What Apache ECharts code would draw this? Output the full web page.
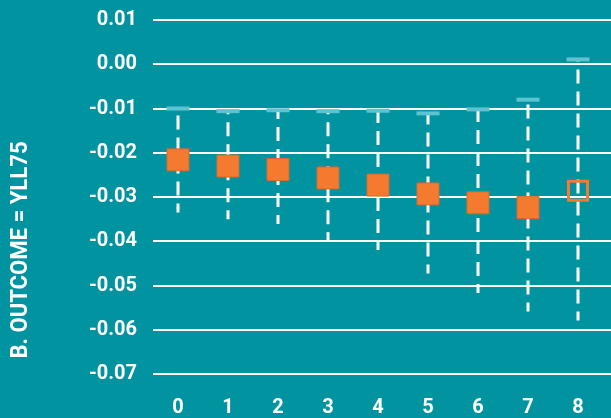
<!DOCTYPE html>
<html>
<head>
<meta charset="utf-8">
<script src="https://cdn.jsdelivr.net/npm/echarts@6/dist/echarts.min.js"></script>
<style>
  html, body { margin: 0; padding: 0; background: #0193A0; }
  #chart { width: 611px; height: 418px; }
</style>
</head>
<body>
<div id="chart"></div>
<script>
// Lag (years) on the horizontal axis
const lags = [0, 1, 2, 3, 4, 5, 6, 7, 8];
// Point estimates and interval bounds
const estimate = [-0.0216, -0.0230, -0.0238, -0.0257, -0.0273, -0.0293, -0.0313, -0.0324, -0.0286];
const upper    = [-0.0100, -0.0106, -0.0104, -0.0106, -0.0105, -0.0111, -0.0102, -0.0080, 0.0011];
const lower    = [-0.0335, -0.0350, -0.0361, -0.0400, -0.0420, -0.0473, -0.0517, -0.0559, -0.0579];
// Whether the interval excludes zero (filled marker) or not (hollow marker)
const significant = [true, true, true, true, true, true, true, true, false];
// Vertical axis ticks
const yTicks = [-0.07, -0.06, -0.05, -0.04, -0.03, -0.02, -0.01, 0.00, 0.01];
const yTitle = 'B. OUTCOME = YLL75';

const BG = '#0193A0';
const ORANGE = '#F47A30';
const CAP = '#5CC4D0';
const FONT = 'Roboto';

const filledPts = [], hollowPts = [], intervals = [];
lags.forEach((lag, i) => {
  (significant[i] ? filledPts : hollowPts).push([lag, estimate[i]]);
  intervals.push([lag, upper[i], lower[i]]);
});

const chart = echarts.init(document.getElementById('chart'), null, { renderer: 'canvas' });
chart.setOption({
  backgroundColor: BG,
  animation: false,
  grid: { left: 153, right: 0, top: 20, bottom: 38, containLabel: false },
  xAxis: {
    type: 'value',
    min: -0.5,
    max: 8.66,
    interval: 0.5,
    axisLine: { show: false },
    axisTick: { show: false },
    splitLine: { show: false },
    axisLabel: {
      margin: 24,
      color: '#ffffff',
      fontFamily: FONT,
      fontWeight: 'bold',
      fontSize: 20,
      showMaxLabel: false,
      formatter: v => (Math.abs(v - Math.round(v)) < 1e-6 && lags.includes(Math.round(v))) ? String(Math.round(v)) : ''
    }
  },
  yAxis: {
    type: 'value',
    min: yTicks[0],
    max: yTicks[yTicks.length - 1],
    interval: 0.01,
    axisLine: { show: false },
    axisTick: { show: false },
    splitLine: { show: true, lineStyle: { color: '#ffffff', width: 2 } },
    axisLabel: {
      margin: 16,
      color: '#ffffff',
      fontFamily: FONT,
      fontWeight: 'bold',
      fontSize: 20,
      formatter: v => (Math.abs(v) < 1e-9 ? '0.00' : v.toFixed(2))
    }
  },
  graphic: [{
    type: 'text',
    x: 21,
    y: 250,
    rotation: Math.PI / 2,
    scaleX: 0.92,
    style: {
      text: yTitle,
      fill: '#ffffff',
      font: 'bold 24px ' + FONT,
      align: 'center',
      verticalAlign: 'middle'
    }
  }],
  series: [
    {
      type: 'custom',
      z: 2,
      data: intervals,
      renderItem: (params, api) => {
        const top = api.coord([api.value(0), api.value(1)]);
        const bot = api.coord([api.value(0), api.value(2)]);
        return {
          type: 'group',
          children: [
            {
              // dashes run upward from the lower bound
              type: 'line',
              shape: { x1: bot[0], y1: bot[1], x2: top[0], y2: top[1] },
              style: { stroke: '#ffffff', lineWidth: 3, lineDash: [14, 8], lineDashOffset: 5 }
            },
            {
              type: 'rect',
              shape: { x: top[0] - 11.5, y: top[1] - 2, width: 23, height: 4 },
              style: { fill: CAP }
            }
          ]
        };
      }
    },
    {
      type: 'scatter',
      z: 3,
      symbol: 'rect',
      symbolSize: 22,
      data: filledPts,
      itemStyle: { color: ORANGE, borderColor: '#D9692A', borderWidth: 1, opacity: 1 }
    },
    {
      type: 'scatter',
      z: 3,
      symbol: 'rect',
      symbolSize: 19,
      data: hollowPts,
      itemStyle: { color: 'rgba(0,0,0,0)', borderColor: ORANGE, borderWidth: 3, opacity: 1 }
    }
  ]
});
</script>
</body>
</html>
